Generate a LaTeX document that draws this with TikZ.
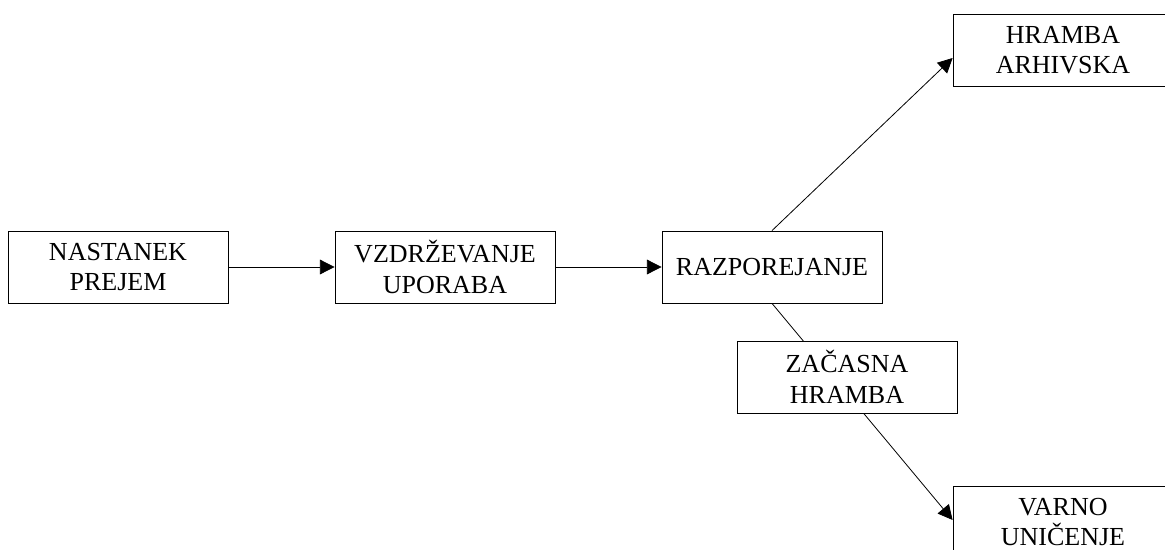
\documentclass[tikz,border=0pt]{standalone}
\usepackage{fontspec}
\setmainfont{Liberation Serif}
\usetikzlibrary{arrows.meta,shapes,calc,positioning}

\begin{document}
\begin{tikzpicture}[x=0.75pt, y=-0.75pt]
	\tikzstyle{every node}=[font=\fontsize{19.5pt}{23pt}\selectfont]
	\tikzstyle{korak}=[draw, line width=0.6pt, fill=white, align=center, minimum width=165pt, minimum height=54pt, inner sep=0pt]
	\tikzstyle{povezava}=[line width=0.6pt, -{Triangle[length=11pt, width=11pt]}]
	\useasboundingbox (0,0) rectangle (1165,550);
	\clip (0,0) rectangle (1165,550);
	\node [korak] (nastanek) at (118,267) {NASTANEK\\PREJEM};
	\node [korak] (vzdrzevanje) at (445,267) {VZDRŽEVANJE\\UPORABA};
	\node [korak] (razporejanje) at (772,267) {RAZPOREJANJE};
	\node [korak] (arhiv) at (1063,50) {HRAMBA\\ARHIVSKA};
	\node [korak] (unicenje) at (1063,522) {VARNO\\UNIČENJE};
	\draw [povezava] (nastanek) -- (vzdrzevanje);
	\draw [povezava] (vzdrzevanje) -- (razporejanje);
	\draw [povezava] (razporejanje.north) -- ($(arhiv.west)+(0,8)$);
	\draw [povezava] (razporejanje.south) -- ($(unicenje.west)+(0,-2)$);
	% zacasna hramba lezi cez povezavo
	\node [korak] (zacasna) at (847,377) {ZAČASNA\\HRAMBA};
\end{tikzpicture}
\end{document}
